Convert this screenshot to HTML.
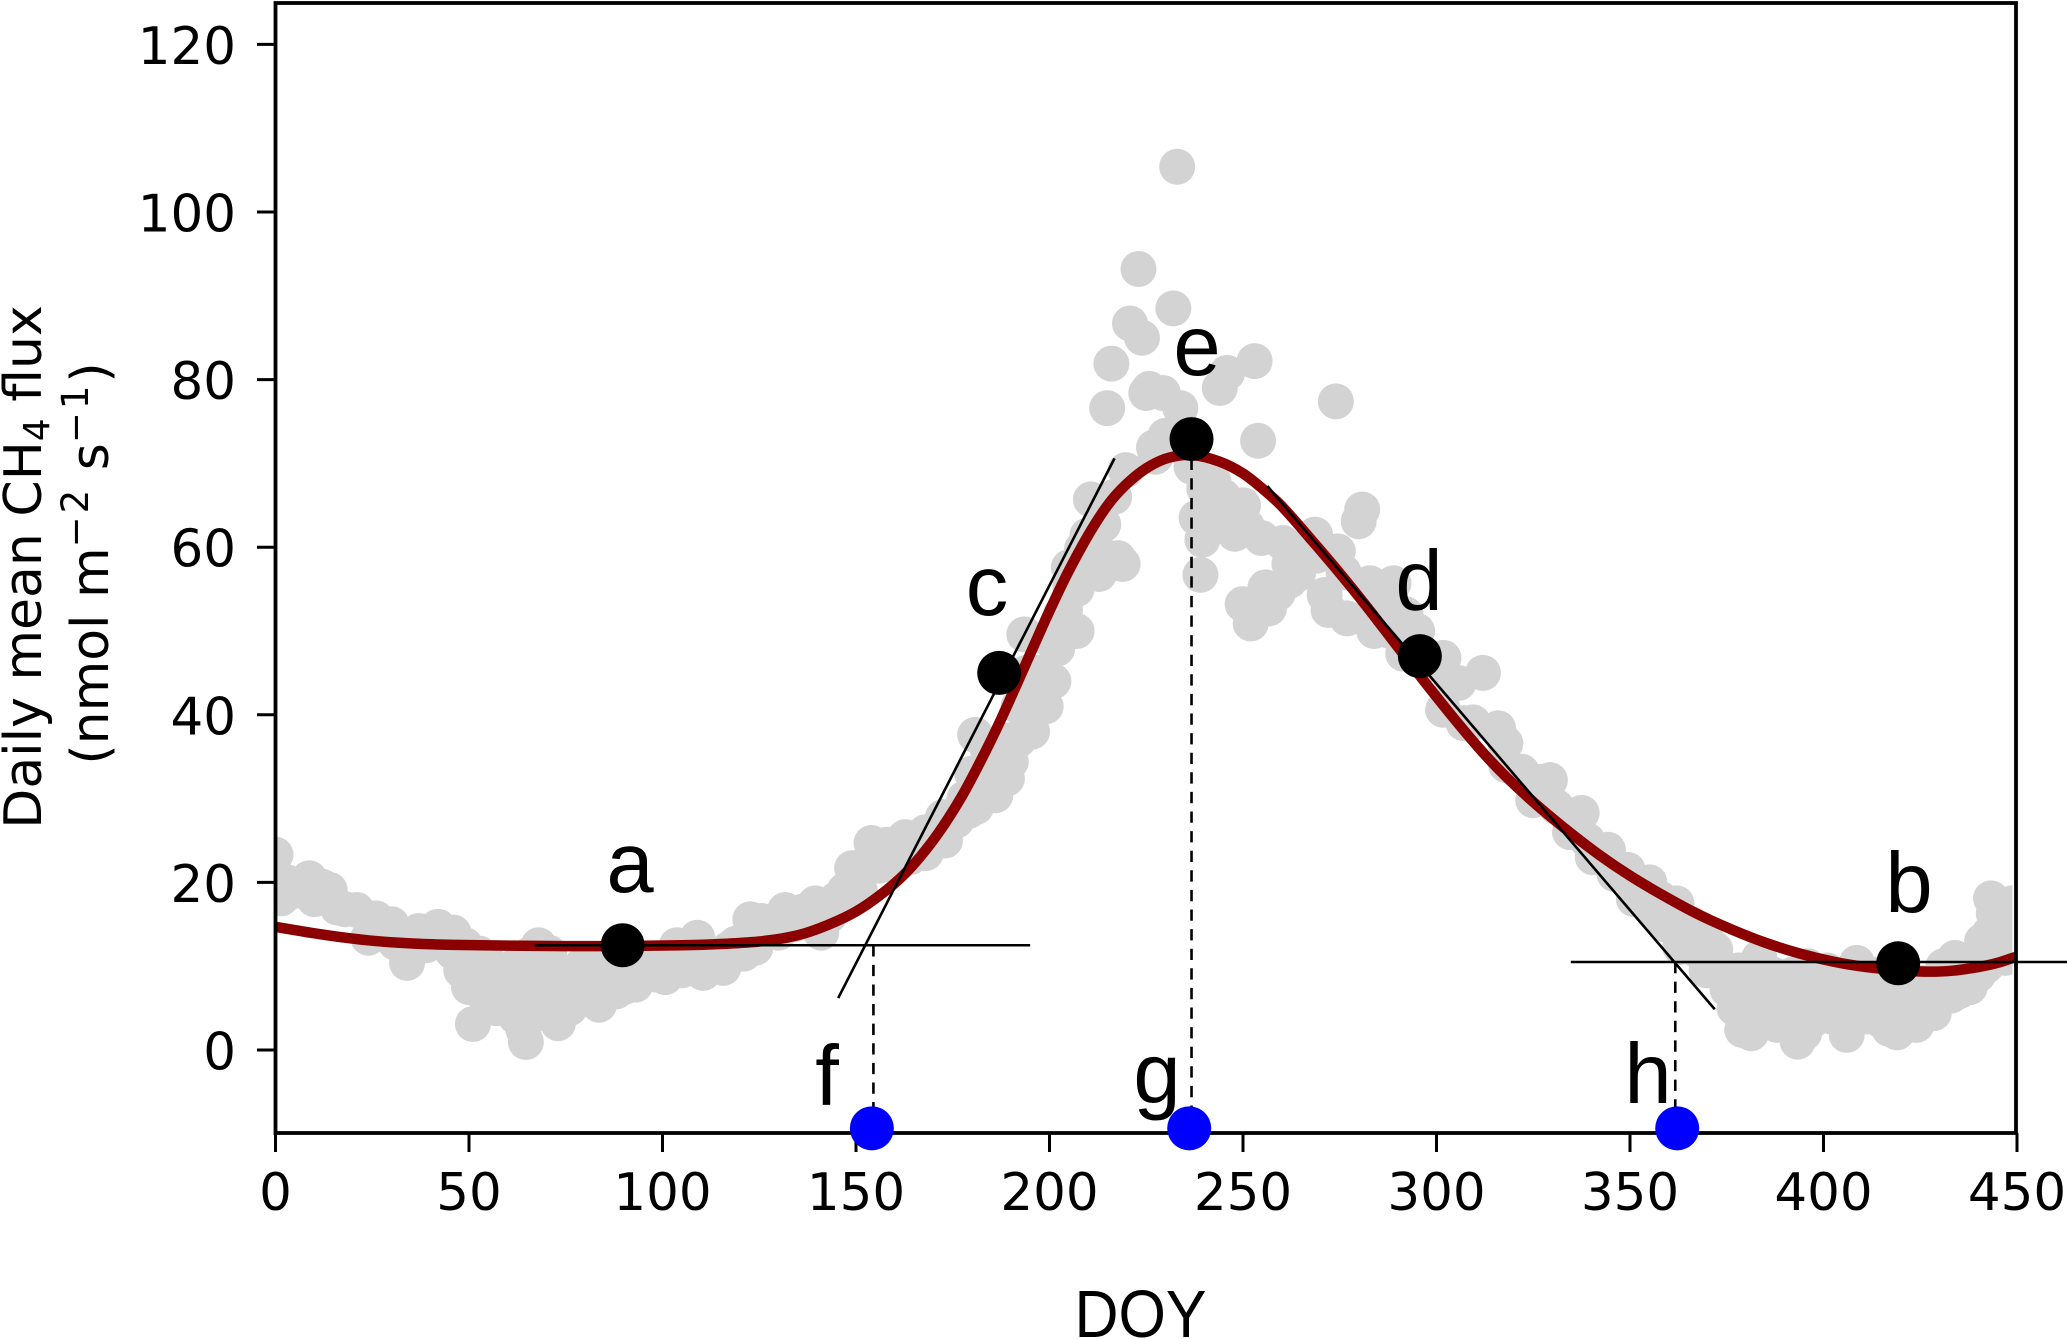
<!DOCTYPE html>
<html lang="en">
<head>
<meta charset="utf-8">
<title>Daily mean CH4 flux by DOY</title>
<style>
html,body{margin:0;padding:0;background:#fff;width:2067px;height:1339px;overflow:hidden}
svg{display:block}
.tick{font-family:"DejaVu Sans",sans-serif;font-size:51.5px;fill:#000}
.ytitle{font-family:"DejaVu Sans",sans-serif;font-size:52px;fill:#000}
.letter{font-family:"Liberation Sans",sans-serif;font-size:85px;fill:#000}
.xtitle{font-family:"Liberation Sans",sans-serif;font-size:67px;fill:#000}
</style>
</head>
<body>
<svg id="chart" xmlns="http://www.w3.org/2000/svg" width="2067" height="1339" viewBox="0 0 2067 1339">
  <defs>
    <clipPath id="plot-clip"><rect x="276" y="3" width="1736.5" height="1129"/></clipPath>
    <clipPath id="curve-clip"><rect x="276" y="3" width="1740" height="1129"/></clipPath>
  </defs>
  <rect x="0" y="0" width="2067" height="1339" fill="#fff"/>
  <g id="scatter-layer" clip-path="url(#plot-clip)"></g>
  <g id="curve-layer" clip-path="url(#curve-clip)"></g>
  <g id="guide-layer"></g>
  <g id="frame-layer"></g>
  <g id="marker-layer"></g>

  <text class="letter" x="630" y="892" text-anchor="middle">a</text>
  <text class="letter" x="1909" y="912" text-anchor="middle">b</text>
  <text class="letter" x="987" y="615" text-anchor="middle">c</text>
  <text class="letter" x="1419" y="610" text-anchor="middle">d</text>
  <text class="letter" x="1197" y="375" text-anchor="middle">e</text>
  <text class="letter" x="827" y="1105" text-anchor="middle">f</text>
  <text class="letter" x="1157" y="1103" text-anchor="middle">g</text>
  <text class="letter" x="1648" y="1103" text-anchor="middle">h</text>

  <text class="ytitle" transform="translate(41,567) rotate(-90)" text-anchor="middle">Daily mean CH<tspan font-size="36" dy="8">4</tspan><tspan dy="-8"> flux</tspan></text>
  <text class="ytitle" transform="translate(108,563.5) rotate(-90)" text-anchor="middle">(nmol m<tspan font-size="37" letter-spacing="3" dy="-20">−2</tspan><tspan dy="20"> s</tspan><tspan font-size="37" letter-spacing="3" dy="-20">−1</tspan><tspan dy="20">)</tspan></text>
  <text class="xtitle" x="1140.5" y="1337" text-anchor="middle" textLength="132" lengthAdjust="spacingAndGlyphs">DOY</text>
</svg>
<script>
const xTicks = [0, 50, 100, 150, 200, 250, 300, 350, 400, 450];
const yTicks = [0, 20, 40, 60, 80, 100, 120];

const scatterDoy = [
0,1.5,3,5,8.7,10,12,14,16,18,21,24,26,28,30,31,34,35,37,39,42,44,45.8,46,47,49,50,51,52,52.7,
55,57,58,60,62,62,64,64.7,66,66,68,69,70,70.7,73,74,76,78,80,81,83.6,85,87,90,93,95,97,98.5,100.7,103.7,
105,107,109,110.5,112,115.7,117,119,121,122.7,124,125.5,127,130,131.7,134,136,139.5,141,143,145,147,149,151,152,154,156,158,160,162.7,
164,166,168,170,172.5,174,176,178,180,180.8,182,184,186,187,189,190,192,193.5,194,195.5,196,198,199,201,202,204,205,205.4,207,208.4,
209.8,210.7,212.8,213.9,214.9,216,216.7,217.7,218.9,219.7,220.8,223,223.9,225,225.8,227,227.4,229.3,230,232,233,233.8,234,236.7,238,239,239.5,240,242.4,244,
245.9,246.4,247.9,249.9,251,252,253,253.9,254.8,255.8,256.7,258,260.3,262,264.2,266,268.6,269,271.1,272.1,274,274.5,276,276.9,279.9,280.8,282.8,283.9,285,288,
288.9,291.4,292,295,298,301.7,301.8,304,305.7,307,309.4,312,315.9,317.8,318,322,325,327,329.3,331,334.5,337.5,339,340.4,344.3,346,349.4,351,354.3,355,
357,359,362,363,365,367,369.8,372,374,375.2,377,379,381.3,383.4,384,386,388,390,391,393.3,395,397,398,400.4,402,404,406,408,408.6,410,
412,413,415,417,419,421,422,424,426,428.5,430,432,434,436,437.8,440,442,443.3,444,444,446,448,448.7,
48,53,56,59,61,63,65,67,68,70,71,72,75,77,79,82,84,88,91,94,
168,173,179,181,183,185,188,190,192,194,197,200,203,207,210,212,
241,243,245,250,259,262,355,358,362,366,368,370,
376,378,380,382,385,387,389,392,393,395,396,399,401,403,405,407,409,411,414,416,418,420,423,425,427,429,431,433,435,438,440,441,443,445,447,447
];
const scatterFlux = [
23.3,18.1,20,19,20.5,18,19.5,19.1,17,16.8,16.7,13.4,15.7,14.5,15,12.8,10.4,12.5,14.2,12.5,14.7,13,11.7,14,11.5,12.5,7.5,3.1,11,11.5,
8,5,9,6,4,10,2.5,0.95,4,11.5,12.5,10,7,11.6,3.2,6,5,7,9,9.5,5.4,8,9.5,7.5,7.8,9,10,9,8.7,12.5,
9.5,11,13.4,9.2,11,9.8,12,12.7,11.5,15.6,12.2,15.4,14,14,16.7,15,16.5,17.5,14,16,18,19,21.7,19,22,24.7,22,24.5,22,25.4,
23,25,23.5,26,27.8,27,27.4,30,33,37.6,32,36,30.4,33,32.4,34.4,37,49.6,45,38,42,44,41,44,47.9,52.5,57.6,55.4,50,59.8,
61.4,65.7,56.8,62.7,76.6,81.9,66,58.7,58,69.2,86.7,93.2,85,78.4,78.9,71.9,70.8,78.4,73.3,88.5,105.4,76.6,72,69.6,63.5,56.7,60.9,67,67.8,79,
80.8,64.1,61.6,53.2,62.5,50.9,82.2,72.7,61.1,55.2,52.7,55,60.5,58,56.8,60,61.5,59,54.3,52.5,77.4,59.5,57,51.5,63.1,64.5,55.7,50,53,50,
55.7,47.3,52,50,46,40.6,46.8,44,43.8,39,39.1,45,38.4,36.6,34,33.2,29.8,32,32.2,29,26,28.3,25,23,23.9,21,21.5,18,19.5,17,
16.3,15,15.5,12.3,14,12,9.5,12,9,7.2,5,2.4,2,11,5,4,3,7.5,5,1,2,3.5,6,6.8,4,5,1.8,4,10.4,7,
5,9,3.5,2.5,2.1,4,7,3,6,4.4,8,7,11,9,7.5,11,10,18.1,11.9,16.3,13,15,17.5,
9.5,7,10,7.5,8,6,8,8,5.5,9,5,7,9,8,10,7.5,10,7,10,10.5,
26,25,28.5,29,31,34,36,37,41,41,45,49,52,55,58,60,
62,64,66,65,54.5,56,20,18,17.5,15,14.5,13,
8,9.5,6,8,8,9,6,9,5,7.5,10,9,9.5,7.5,9,6,8,4,6.5,8,6,7,6,8,8,6,10,6.5,7,10,9,13,14,15,13,11
];

const curveDoy = [0,9,18,26,36,46,60,75,90,105,115,125,132,138,147,153,160,165,171,177,182,187,194,200,205,211,216,221,226,231,237,244,250,255,260,268,275,282,290,297,305,312,318,325,333,342,350,359.5,368,376.7,385,394,403,411,420,427,433,440,445,449.6];
const curveFlux = [14.7,14,13.4,13,12.7,12.55,12.45,12.4,12.4,12.5,12.65,12.95,13.4,14.1,15.8,17.4,19.9,22.2,25.7,30,34.3,39,46.2,52.4,57.2,62.2,65.6,68,69.7,70.7,71,70.2,68.8,67,64.9,60.7,56.9,52.9,48.1,43.9,39.3,35.5,32.6,29.6,26.5,23.3,20.8,18.2,16.1,14.3,12.8,11.5,10.5,9.9,9.5,9.35,9.45,9.9,10.4,11.1];

const keyDoy = [89.7, 419.3, 187, 295.7, 236.7];
const keyFlux = [12.5, 10.35, 45, 47, 72.9];
const transitionDoy = [154.1, 236.1, 362.2];
const transitionFlux = [-9.35, -9.35, -9.35];

const tangentStartDoy = [67, 334.7, 145.4, 256.3];
const tangentStartFlux = [12.5, 10.5, 6.2, 67.3];
const tangentEndDoy = [195, 470, 216.8, 371.9];
const tangentEndFlux = [12.5, 10.5, 70.6, 4.86];

const dropDoy = [154.5, 236.7, 361.7];
const dropFromFlux = [12.5, 72.9, 10.5];
const dropToFlux = [-9.35, -9.35, -9.35];

const SVG_NS = 'http://www.w3.org/2000/svg';
function xScale(d) { return 275.5 + 3.87 * d; }
function yScale(v) { return 1050 - 8.38 * v; }
function make(tag) { return document.createElementNS(SVG_NS, tag); }

const scatterLayer = document.getElementById('scatter-layer');
scatterDoy.forEach(function (d, i) {
  const c = make('circle');
  
  
  c.setAttribute('cx', xScale(d));
  c.setAttribute('cy', yScale(scatterFlux[i]));
  c.setAttribute('r', 18);
  c.setAttribute('fill', '#d3d3d3');
  scatterLayer.appendChild(c);
});

const curveLayer = document.getElementById('curve-layer');
const cx = curveDoy.map(xScale);
const cy = curveFlux.map(yScale);
let curvePath = 'M' + cx[0] + ' ' + cy[0];
for (let i = 0; i < cx.length - 1; i++) {
  const p0 = Math.max(i - 1, 0), p3 = Math.min(i + 2, cx.length - 1);
  const h = cx[i + 1] - cx[i];
  const m1 = (cy[i + 1] - cy[p0]) / (cx[i + 1] - cx[p0]);
  const m2 = (cy[p3] - cy[i]) / (cx[p3] - cx[i]);
  curvePath += ' C' + (cx[i] + h / 3) + ' ' + (cy[i] + m1 * h / 3) + ' ' +
    (cx[i + 1] - h / 3) + ' ' + (cy[i + 1] - m2 * h / 3) + ' ' + cx[i + 1] + ' ' + cy[i + 1];
}
const curve = make('path');


curve.setAttribute('d', curvePath);
curve.setAttribute('fill', 'none');
curve.setAttribute('stroke', '#8b0000');
curve.setAttribute('stroke-width', 10.5);
curveLayer.appendChild(curve);

const guideLayer = document.getElementById('guide-layer');
tangentStartDoy.forEach(function (d, i) {
  const l = make('line');
  
  
  l.setAttribute('x1', xScale(d));
  l.setAttribute('y1', yScale(tangentStartFlux[i]));
  l.setAttribute('x2', xScale(tangentEndDoy[i]));
  l.setAttribute('y2', yScale(tangentEndFlux[i]));
  l.setAttribute('stroke', '#000');
  l.setAttribute('stroke-width', 2.6);
  guideLayer.appendChild(l);
});
dropDoy.forEach(function (d, i) {
  const l = make('line');
  
  
  l.setAttribute('x1', xScale(d));
  l.setAttribute('y1', yScale(dropFromFlux[i]));
  l.setAttribute('x2', xScale(d));
  l.setAttribute('y2', yScale(dropToFlux[i]));
  l.setAttribute('stroke', '#000');
  l.setAttribute('stroke-width', 2.6);
  l.setAttribute('stroke-dasharray', '11.3 8.3');
  guideLayer.appendChild(l);
});

const frameLayer = document.getElementById('frame-layer');
const spine = make('rect');


spine.setAttribute('x', 275.5);
spine.setAttribute('y', 3);
spine.setAttribute('width', 1740.5);
spine.setAttribute('height', 1130);
spine.setAttribute('fill', 'none');
spine.setAttribute('stroke', '#000');
spine.setAttribute('stroke-width', 3.8);
frameLayer.appendChild(spine);

xTicks.forEach(function (t) {
  const m = make('line');
  
  
  m.setAttribute('x1', xScale(t));
  m.setAttribute('x2', xScale(t));
  m.setAttribute('y1', 1133);
  m.setAttribute('y2', 1152);
  m.setAttribute('stroke', '#000');
  m.setAttribute('stroke-width', 3);
  frameLayer.appendChild(m);
  const s = make('text');
  
  
  s.setAttribute('class', 'tick');
  s.setAttribute('x', xScale(t));
  s.setAttribute('y', 1210);
  s.setAttribute('text-anchor', 'middle');
  s.textContent = String(t);
  frameLayer.appendChild(s);
});
yTicks.forEach(function (t) {
  const m = make('line');
  
  
  m.setAttribute('x1', 257);
  m.setAttribute('x2', 275.5);
  m.setAttribute('y1', yScale(t));
  m.setAttribute('y2', yScale(t));
  m.setAttribute('stroke', '#000');
  m.setAttribute('stroke-width', 3);
  frameLayer.appendChild(m);
  const s = make('text');
  
  
  s.setAttribute('class', 'tick');
  s.setAttribute('x', 236);
  s.setAttribute('y', yScale(t) + 19.5);
  s.setAttribute('text-anchor', 'end');
  s.textContent = String(t);
  frameLayer.appendChild(s);
});

const markerLayer = document.getElementById('marker-layer');
keyDoy.forEach(function (d, i) {
  const c = make('circle');
  
  
  c.setAttribute('cx', xScale(d));
  c.setAttribute('cy', yScale(keyFlux[i]));
  c.setAttribute('r', 22);
  c.setAttribute('fill', '#000');
  markerLayer.appendChild(c);
});
transitionDoy.forEach(function (d, i) {
  const c = make('circle');
  
  
  c.setAttribute('cx', xScale(d));
  c.setAttribute('cy', yScale(transitionFlux[i]));
  c.setAttribute('r', 22);
  c.setAttribute('fill', '#0000ff');
  markerLayer.appendChild(c);
});
</script>
</body>
</html>
